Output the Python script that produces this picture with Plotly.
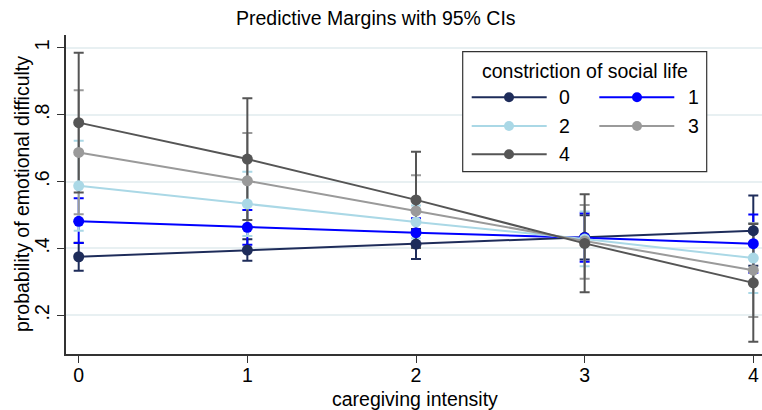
import plotly.graph_objects as go

# ---------------- data ----------------
intensity = [0, 1, 2, 3, 4]
groups = ["0", "1", "2", "3", "4"]

margin_0 = [0.375, 0.395, 0.413, 0.433, 0.453]
lo_0 = [0.333, 0.363, 0.368, 0.367, 0.348]
hi_0 = [0.417, 0.427, 0.458, 0.499, 0.558]

margin_1 = [0.481, 0.463, 0.447, 0.432, 0.414]
lo_1 = [0.416, 0.411, 0.404, 0.360, 0.327]
hi_1 = [0.550, 0.515, 0.490, 0.505, 0.501]

margin_2 = [0.587, 0.533, 0.479, 0.428, 0.371]
lo_2 = [0.453, 0.437, 0.430, 0.347, 0.267]
hi_2 = [0.722, 0.629, 0.528, 0.510, 0.475]

margin_3 = [0.687, 0.602, 0.512, 0.422, 0.335]
lo_3 = [0.502, 0.459, 0.405, 0.309, 0.195]
hi_3 = [0.873, 0.745, 0.619, 0.530, 0.475]

margin_4 = [0.776, 0.667, 0.545, 0.415, 0.297]
lo_4 = [0.567, 0.485, 0.401, 0.269, 0.121]
hi_4 = [0.985, 0.849, 0.689, 0.562, 0.473]

y_tickvals = [0.2, 0.4, 0.6, 0.8, 1.0]
y_ticktext = [".2", ".4", ".6", ".8", "1"]
x_tickvals = [0, 1, 2, 3, 4]

margins = [margin_0, margin_1, margin_2, margin_3, margin_4]
lows = [lo_0, lo_1, lo_2, lo_3, lo_4]
highs = [hi_0, hi_1, hi_2, hi_3, hi_4]

# ---------------- style ----------------
colors = ["#1e2c5a", "#0000ff", "#aad8e6", "#9a9a9a", "#555555"]
FONT = "Liberation Sans, Arial, Helvetica, sans-serif"
FS = 19.5
W, H = 762, 410
L, R, T, B = 66, 0, 35, 56
PW, PH = W - L - R, H - T - B


def px(x):
    return (x - L) / PW


def py(y):
    return (H - B - y) / PH


fig = go.Figure()

# confidence intervals first (drawn beneath the lines)
for g, m, lo, hi, c in zip(groups, margins, lows, highs, colors):
    fig.add_trace(go.Scatter(
        x=intensity, y=m, mode="markers",
        marker=dict(size=1, color="rgba(0,0,0,0)"),
        error_y=dict(type="data", symmetric=False,
                     array=[h - v for h, v in zip(hi, m)],
                     arrayminus=[v - l for l, v in zip(lo, m)],
                     color=c, thickness=2, width=5),
        showlegend=False, hoverinfo="skip"))

for g, m, c in zip(groups, margins, colors):
    fig.add_trace(go.Scatter(
        x=intensity, y=m, mode="lines+markers", name=g,
        line=dict(color=c, width=2),
        marker=dict(color=c, size=11),
        showlegend=False))

# ---------------- manual legend (two columns, Stata style) ----------------
shapes = []
annotations = []
shapes.append(dict(type="rect", xref="paper", yref="paper",
                   x0=px(462.7), x1=px(706.7), y0=py(171.7), y1=py(51.7),
                   line=dict(color="#333333", width=1.2), fillcolor="white",
                   layer="above"))
annotations.append(dict(text="constriction of social life", xref="paper", yref="paper",
                        x=px(584.5), y=py(70.5), showarrow=False,
                        font=dict(family=FONT, size=FS, color="black"),
                        xanchor="center", yanchor="middle"))
slots = [(0, 0), (1, 0), (0, 1), (1, 1), (0, 2)]
col_x = [(471.7, 546.7, 509.0, 557.0), (599.3, 674.3, 637.0, 685.5)]
row_y = [97.3, 126.0, 154.3]
for g, c, (ci, ri) in zip(groups, colors, slots):
    x0, x1, xm, xt = col_x[ci]
    yy = row_y[ri]
    shapes.append(dict(type="line", xref="paper", yref="paper",
                       x0=px(x0), x1=px(x1), y0=py(yy), y1=py(yy),
                       line=dict(color=c, width=2), layer="above"))
    shapes.append(dict(type="circle", xref="paper", yref="paper",
                       xsizemode="pixel", ysizemode="pixel",
                       xanchor=px(xm), yanchor=py(yy),
                       x0=-5, x1=5, y0=-5, y1=5,
                       line=dict(color=c, width=0), fillcolor=c, layer="above"))
    annotations.append(dict(text=g, xref="paper", yref="paper",
                            x=px(xt), y=py(yy), showarrow=False,
                            font=dict(family=FONT, size=FS, color="black"),
                            xanchor="left", yanchor="middle"))

# titles
annotations.append(dict(text="Predictive Margins with 95% CIs", xref="paper", yref="paper",
                        x=px(376), y=py(18), showarrow=False,
                        font=dict(family=FONT, size=FS, color="black"),
                        xanchor="center", yanchor="middle"))
annotations.append(dict(text="caregiving intensity", xref="paper", yref="paper",
                        x=px(415), y=py(399), showarrow=False,
                        font=dict(family=FONT, size=FS, color="black"),
                        xanchor="center", yanchor="middle"))
annotations.append(dict(text="probability of emotional difficulty", xref="paper", yref="paper",
                        x=px(22), y=py(194), showarrow=False, textangle=-90,
                        font=dict(family=FONT, size=FS, color="black"),
                        xanchor="center", yanchor="middle"))

fig.update_layout(
    width=W, height=H,
    margin=dict(l=L, r=R, t=T, b=B, pad=0),
    paper_bgcolor="white", plot_bgcolor="white",
    font=dict(family=FONT, size=FS, color="black"),
    shapes=shapes, annotations=annotations,
    showlegend=False,
    xaxis=dict(range=[-0.0753, 4.0516], tickvals=x_tickvals,
               ticks="outside", ticklen=7, tickwidth=1.2, tickcolor="#333333",
               ticklabelstandoff=-4,
               showline=True, linecolor="#333333", linewidth=1.5,
               showgrid=False, zeroline=False,
               tickfont=dict(family=FONT, size=FS, color="black")),
    yaxis=dict(range=[0.0843, 1.038], tickvals=y_tickvals, ticktext=y_ticktext,
               tickangle=-90,
               ticks="outside", ticklen=7, tickwidth=1.2, tickcolor="#333333",
               showline=True, linecolor="#333333", linewidth=1.5,
               showgrid=True, gridcolor="#e8f0f2", gridwidth=1.5, zeroline=False,
               tickfont=dict(family=FONT, size=FS, color="black")),
)

fig.write_html("out.html", config={"displayModeBar": False},
               post_script="document.body.style.margin='0';document.body.style.overflow='hidden';")
